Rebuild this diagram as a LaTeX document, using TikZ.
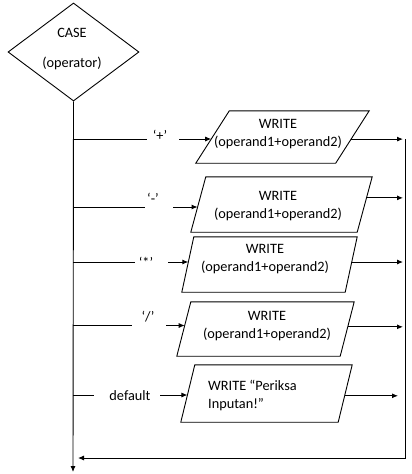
\documentclass[tikz,border=0pt]{standalone}
\usepackage{fontspec}
\setmainfont{Carlito}
\usetikzlibrary{shapes.geometric,arrows.meta,calc}
\begin{document}
\begin{tikzpicture}[x=1pt,y=-1pt,
  every node/.style={font=\fontsize{14.3}{18}\selectfont, inner sep=0pt},
  flow/.style={line width=0.9pt},
  arr/.style={flow,-{Latex[length=6pt,width=5pt]}},
  decision/.style={draw,line width=0.9pt,diamond,inner sep=2pt,minimum width=131,minimum height=98},
  txt/.style={align=center},
  lbl/.style={anchor=base}
]
\useasboundingbox (0,0) rectangle (412,474);

% decision
\node[decision] (case) at (73.5,52) {};
\node (caseA) at (72,33) {CASE};
\node (caseB) at (72,63) {(operator)};

% main trunk
\coordinate (end) at (73,472);
\draw[arr] (case.south) -- (end);

% right-hand collector rail
\coordinate (r1) at (405,139);
\coordinate (r2) at (405,458);
\coordinate (m) at (78,458);
\draw[arr] (r1) -- (r2) -- (m);

% output boxes: name / centre x / centre y / side length / height / slant
\foreach \n/\cx/\cy/\w/\h/\s in {
    p1/282.5/137/139.5/52/33.5,
    p2/281.5/204.5/166/55/15,
    p3/269.5/264.5/163/55/12,
    p4/265.5/329/163/54/14,
    p5/266.5/393.5/157/57/14}{
  \node[minimum width=\w, minimum height=\h] (\n) at (\cx,\cy) {};
  \coordinate (\n-tl) at ([xshift=\s/2]\n.north west);
  \coordinate (\n-tr) at ([xshift=\s/2]\n.north east);
  \coordinate (\n-br) at ([xshift=-\s/2]\n.south east);
  \coordinate (\n-bl) at ([xshift=-\s/2]\n.south west);
  \draw[flow, line join=miter] (\n-tl) -- (\n-tr) -- (\n-br) -- (\n-bl) -- cycle;
}

\node[txt] (t1) at (278,134) {WRITE\\(operand1+operand2)};
\node[txt] (t2) at (278,206) {WRITE\\(operand1+operand2)};
\node[txt] (t3) at (265,259) {WRITE\\(operand1+operand2)};
\node[txt] (t4) at (267,326.5) {WRITE\\(operand1+operand2)};
\node[align=left,anchor=west] (t5) at (208,395) {WRITE “Periksa\\Inputan!”};

% case labels
\node[lbl] (l1) at (160,140) {‘+’};
\node[lbl] (l2) at (153,203) {‘-’};
\node[lbl] (l3) at (146,267) {‘*’};
\node[lbl] (l4) at (148,321) {‘/’};
\node[lbl] (l5) at (130,400) {default};

% branch points on the trunk, gaps around labels
\coordinate (b1) at (73,139);   \coordinate (g1) at (147,139); \coordinate (h1) at (179,139);
\coordinate (b2) at (73,207);   \coordinate (g2) at (145,207); \coordinate (h2) at (173,207);
\coordinate (b3) at (73,262);   \coordinate (g3) at (135,262); \coordinate (h3) at (168,262);
\coordinate (b4) at (73,325.5); \coordinate (g4) at (132,325.5); \coordinate (h4) at (166,325.5);
\coordinate (b5) at (73,395);   \coordinate (g5) at (94,395);  \coordinate (h5) at (160,395);

% entry points on the left sides
\coordinate (e1) at ($(p1-tl)!0.54!(p1-bl)$);
\coordinate (e2) at ($(p2-tl)!0.545!(p2-bl)$);
\coordinate (e3) at ($(p3-tl)!0.455!(p3-bl)$);
\coordinate (e4) at ($(p4-tl)!0.435!(p4-bl)$);
\coordinate (e5) at ($(p5-tl)!0.526!(p5-bl)$);

% exit points on the right sides
\coordinate (o1) at ($(p1-tr)!0.54!(p1-br)$);
\coordinate (o2) at ($(p2-tr)!0.38!(p2-br)$);
\coordinate (o3) at ($(p3-tr)!0.455!(p3-br)$);
\coordinate (o4) at ($(p4-tr)!0.46!(p4-br)$);
\coordinate (o5) at ($(p5-tr)!0.54!(p5-br)$);

\coordinate (tip) at (403,0);
\coordinate (tip5) at (398,0);

\foreach \i in {1,...,5}{
  \draw[flow] (b\i) -- (g\i);
  \draw[arr] (h\i) -- (h\i -| e\i);
}
\foreach \i in {1,...,4}{
  \draw[arr] (o\i) -- (o\i -| tip);
}
\draw[arr] (o5) -- (o5 -| tip5);
\end{tikzpicture}
\end{document}
